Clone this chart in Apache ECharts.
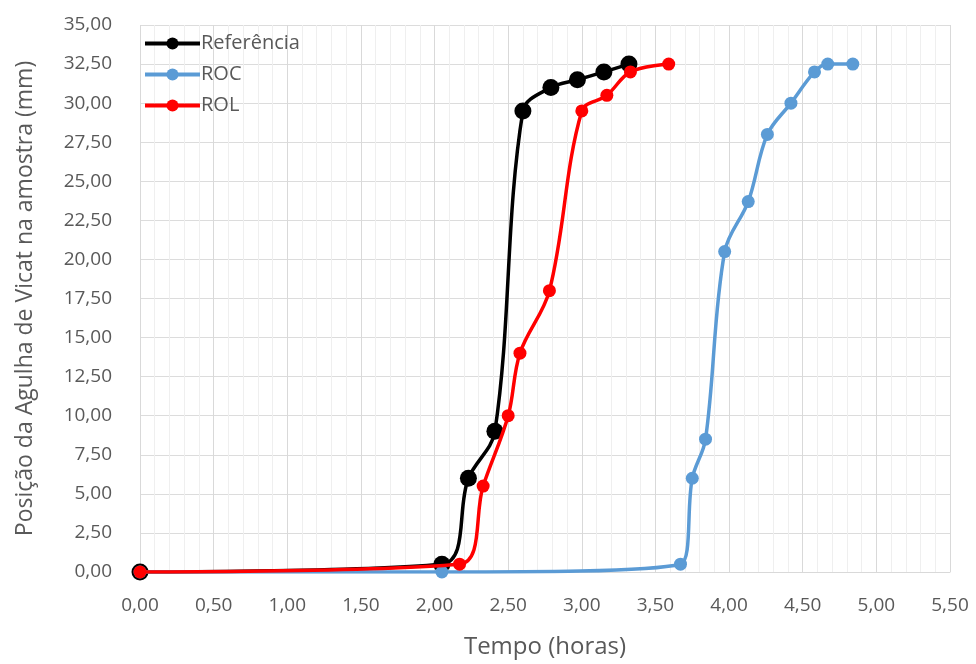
<!DOCTYPE html>
<html>
<head>
<meta charset="utf-8">
<script src="https://cdn.jsdelivr.net/npm/echarts@6/dist/echarts.min.js"></script>
<style>
  html, body { margin: 0; padding: 0; background: #fff; }
  #chart { width: 976px; height: 664px; }
</style>
</head>
<body>
<div id="chart"></div>
<script>
// Vicat needle penetration vs. time, three mixes
const seriesNames = ['Referência', 'ROC', 'ROL'];

const tempoReferencia = [0.00, 2.05, 2.23, 2.41, 2.60, 2.79, 2.97, 3.15, 3.32];
const posReferencia   = [0.00, 0.50, 6.00, 9.00, 29.50, 31.00, 31.50, 32.00, 32.50];

const tempoROC = [0.00, 2.05, 3.67, 3.75, 3.84, 3.97, 4.13, 4.26, 4.42, 4.58, 4.67, 4.84];
const posROC   = [0.00, 0.00, 0.50, 6.00, 8.50, 20.50, 23.70, 28.00, 30.00, 32.00, 32.50, 32.50];

const tempoROL = [0.00, 2.17, 2.33, 2.50, 2.58, 2.78, 3.00, 3.17, 3.33, 3.59];
const posROL   = [0.00, 0.50, 5.50, 10.00, 14.00, 18.00, 29.50, 30.50, 32.00, 32.50];

const xTitle = 'Tempo (horas)';
const yTitle = 'Posição da Agulha de Vicat na amostra (mm)';

const pairs = (xs, ys) => xs.map((x, i) => [x, ys[i]]);
const fmt = v => v.toFixed(2).replace('.', ',');

const textColor = '#595959';
const fontFamily = '"Open Sans", "Noto Sans", sans-serif';

const chart = echarts.init(document.getElementById('chart'));
chart.setOption({
  animation: false,
  backgroundColor: '#ffffff',
  textStyle: { fontFamily: fontFamily },
  grid: { left: 140, right: 26, top: 25, bottom: 91, containLabel: false },
  legend: {
    data: seriesNames,
    orient: 'vertical',
    left: 138,
    top: 28,
    itemWidth: 55,
    itemHeight: 15,
    itemGap: 10,
    lineStyle: { width: 4 },
    textStyle: { color: textColor, fontSize: 20, lineHeight: 21, fontFamily: fontFamily, padding: [0, 0, 0, -4] }
  },
  xAxis: {
    type: 'value',
    min: 0, max: 5.5, interval: 0.5,
    name: xTitle,
    nameLocation: 'middle',
    nameGap: 63,
    nameTextStyle: { color: textColor, fontSize: 24, fontFamily: fontFamily },
    axisLine: { show: true, lineStyle: { color: '#d9d9d9' } },
    axisTick: { show: false },
    axisLabel: { color: textColor, fontSize: 19, margin: 24, formatter: fmt },
    splitLine: { show: true, lineStyle: { color: '#d9d9d9', width: 1 } },
    minorTick: { show: false, splitNumber: 5 },
    minorSplitLine: { show: true, lineStyle: { color: '#efefef', width: 1 } }
  },
  yAxis: {
    type: 'value',
    min: 0, max: 35, interval: 2.5,
    name: yTitle,
    nameLocation: 'middle',
    nameGap: 103,
    nameTextStyle: { color: textColor, fontSize: 23, fontFamily: fontFamily },
    axisLine: { show: false },
    axisTick: { show: false },
    axisLabel: { color: textColor, fontSize: 19, margin: 28, formatter: fmt },
    splitLine: { show: true, lineStyle: { color: '#dcdcdc', width: 1 } }
  },
  series: [
    {
      name: seriesNames[0],
      type: 'line',
      data: pairs(tempoReferencia, posReferencia),
      smooth: 0.35,
      symbol: 'circle',
      symbolSize: 17,
      itemStyle: { color: '#000000' },
      lineStyle: { color: '#000000', width: 3.5 },
      z: 2
    },
    {
      name: seriesNames[1],
      type: 'line',
      data: pairs(tempoROC, posROC),
      smooth: 0.35,
      symbol: 'circle',
      symbolSize: 13,
      itemStyle: { color: '#5b9bd5' },
      lineStyle: { color: '#5b9bd5', width: 3.5 },
      z: 3
    },
    {
      name: seriesNames[2],
      type: 'line',
      data: pairs(tempoROL, posROL),
      smooth: 0.35,
      symbol: 'circle',
      symbolSize: 13,
      itemStyle: { color: '#ff0000' },
      lineStyle: { color: '#ff0000', width: 3.5 },
      z: 4
    }
  ]
});
</script>
</body>
</html>
